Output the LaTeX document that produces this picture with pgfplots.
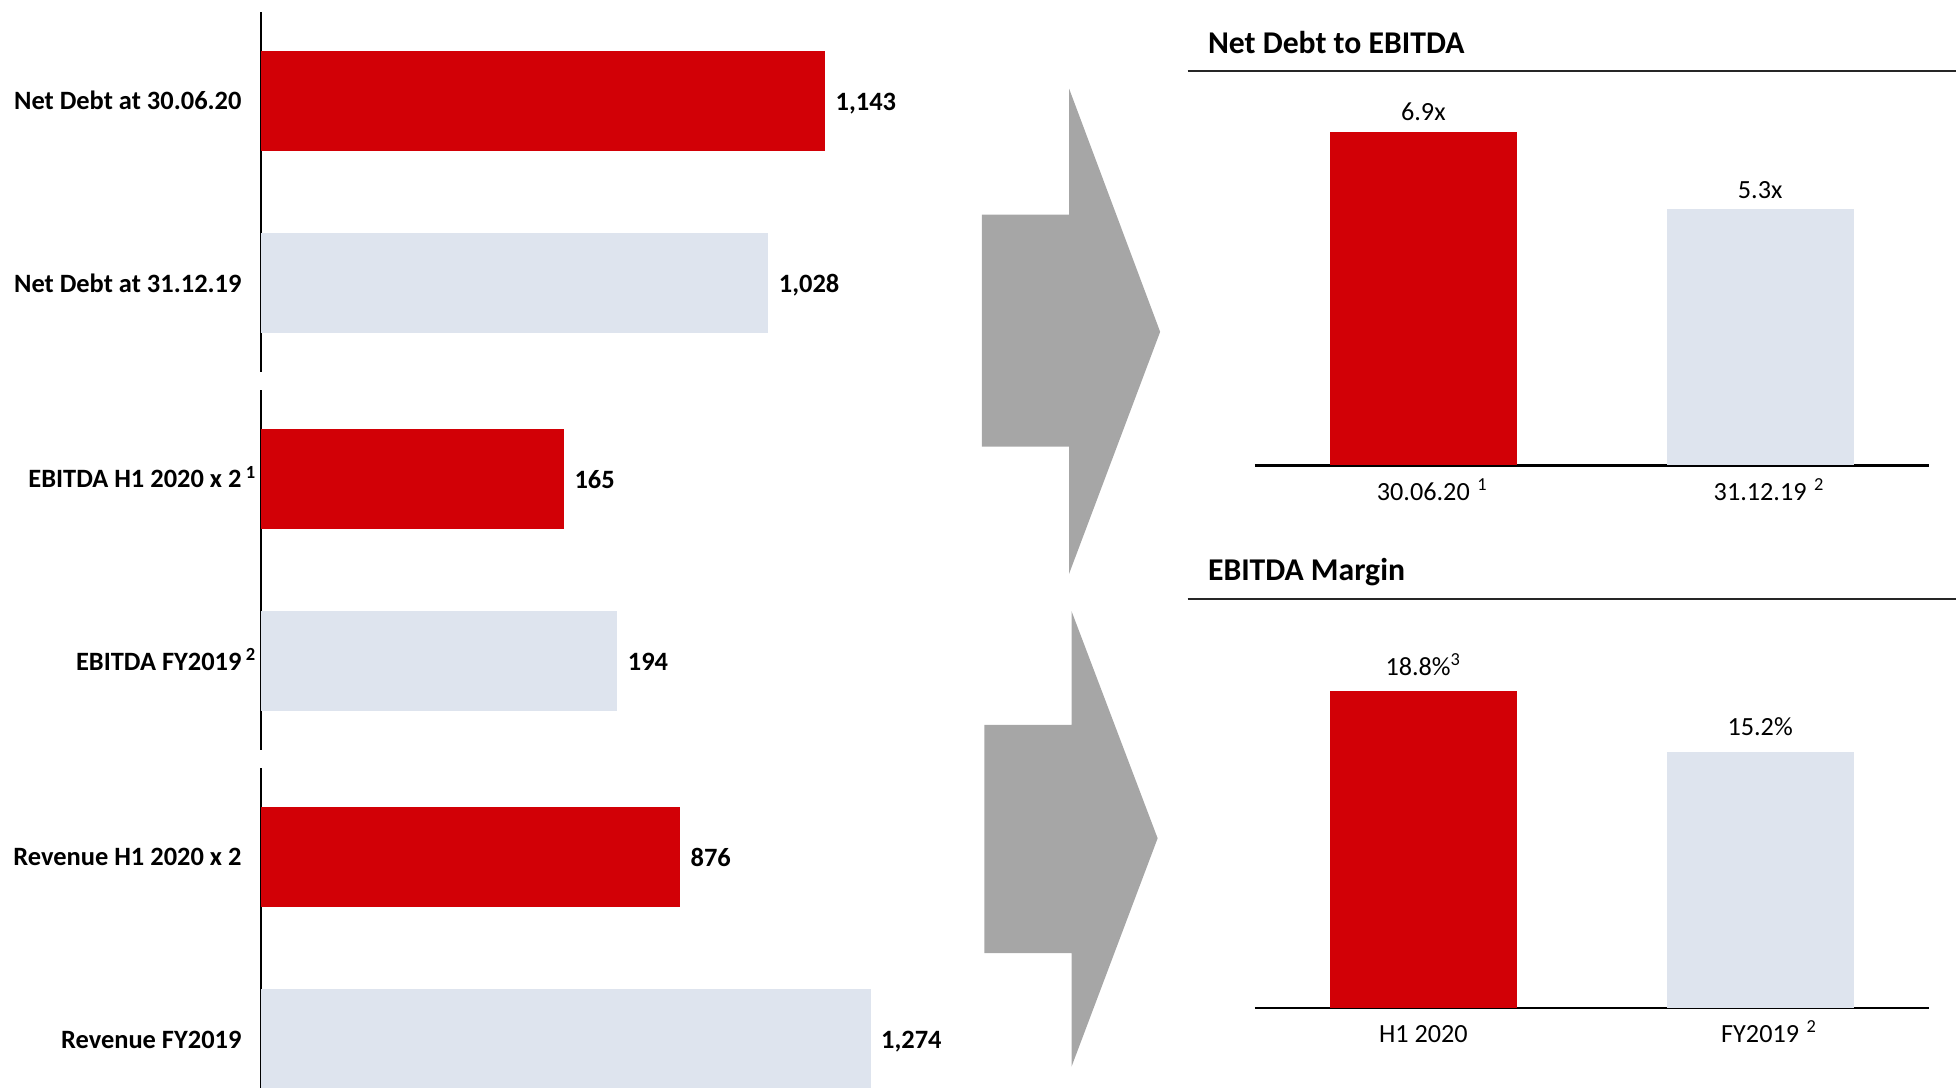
\documentclass[border=0pt]{standalone}
\usepackage{pgfplots}
\pgfplotsset{compat=1.18}
\usepackage{fontspec}
\setmainfont{Carlito}
\definecolor{cred}{RGB}{210,0,6}
\definecolor{clight}{RGB}{222,228,238}
\definecolor{carrow}{RGB}{166,166,166}
\newcommand{\lfont}{\fontsize{10.6}{12}\selectfont\bfseries}
\newcommand{\rfont}{\fontsize{10.5}{12}\selectfont}
\pgfplotsset{
  leftbar/.style={
    xbar, scale only axis, width=270pt, height=144pt, anchor=north west,
    y dir=reverse, bar width=40pt,
    xmin=0, ymin=-0.486, ymax=1.486,
    axis x line=none, axis y line=left,
    y axis line style={-, line width=0.9pt, black},
    ytick={0,1}, xtick=\empty, major tick length=0pt,
    yticklabel style={font=\lfont, inner sep=0pt, anchor=base east, xshift=-7.5pt, yshift=-3.6pt},
    point meta=x,
    nodes near coords={\pgfmathprintnumber[assume math mode=true,1000 sep={,}]{\pgfplotspointmeta}},
    every node near coord/.append style={font=\lfont, anchor=base west, inner sep=0pt, xshift=4pt, yshift=-3.9pt},
    clip=false,
  },
  rightbar/.style={
    ybar, scale only axis, width=270pt, anchor=south west,
    bar width=75pt, xmin=-0.5, xmax=1.5, ymin=0,
    axis x line=bottom, axis y line=none,
    x axis line style={-, line width=1pt, black},
    xtick={0,1}, ytick=\empty, major tick length=0pt,
    xticklabel style={font=\rfont, anchor=base, inner sep=0pt, yshift=-14pt},
    point meta=explicit symbolic,
    nodes near coords,
    every node near coord/.append style={font=\rfont, anchor=base, inner sep=0pt},
    clip=false,
  },
}
\begin{document}
\begin{tikzpicture}
\path[use as bounding box] (0,0) rectangle (784pt,436pt);
\clip (0,0) rectangle (784pt,436pt);

% Left panel
\begin{axis}[leftbar, at={(104.5pt,431pt)}, xmax=1364,
  yticklabels={Net Debt at 30.06.20, Net Debt at 31.12.19}]
\addplot[fill=cred, draw=none, bar shift=0pt] coordinates {(1143,0)};
\addplot[fill=clight, draw=none, bar shift=0pt] coordinates {(1028,1)};
\end{axis}

\begin{axis}[leftbar, at={(104.5pt,279.5pt)}, xmax=366.4,
  yticklabels={EBITDA H1 2020 x 2\rlap{\,\textsuperscript{1}}, EBITDA FY2019\rlap{\,\textsuperscript{2}}}]
\addplot[fill=cred, draw=none, bar shift=0pt] coordinates {(165,0)};
\addplot[fill=clight, draw=none, bar shift=0pt] coordinates {(194,1)};
\end{axis}

\begin{axis}[leftbar, at={(104.5pt,128pt)}, xmax=1407,
  yticklabels={Revenue H1 2020 x 2, Revenue FY2019}]
\addplot[fill=cred, draw=none, bar shift=0pt] coordinates {(876,0)};
\addplot[fill=clight, draw=none, bar shift=0pt] coordinates {(1274,1)};
\end{axis}

% Arrows
\fill[carrow] (393.5pt,350pt) -- (428.5pt,350pt) -- (428.5pt,400.5pt) -- (465pt,303pt) -- (428.5pt,206pt) -- (428.5pt,257pt) -- (393.5pt,257pt) -- cycle;
\fill[carrow] (394.5pt,145.5pt) -- (429.5pt,145.5pt) -- (429.5pt,191pt) -- (464pt,100pt) -- (429.5pt,8.5pt) -- (429.5pt,54pt) -- (394.5pt,54pt) -- cycle;

% Right panel: titles and rules
\node[anchor=base west, font=\fontsize{12.7}{15}\selectfont\bfseries, inner sep=0pt] at (484pt,414.5pt) {Net Debt to EBITDA};
\draw[line width=1pt, black!85] (476pt,407.5pt) -- (784pt,407.5pt);
\node[anchor=base west, font=\fontsize{12.7}{15}\selectfont\bfseries, inner sep=0pt] at (484pt,203.5pt) {EBITDA Margin};
\draw[line width=1pt, black!85] (476pt,196pt) -- (784pt,196pt);

\begin{axis}[rightbar, at={(503pt,249.5pt)}, height=135.45pt, ymax=7,
  every node near coord/.append style={yshift=4.5pt},
  xticklabels={30.06.20\rlap{\hspace{3pt}\textsuperscript{1}}, 31.12.19\rlap{\hspace{3pt}\textsuperscript{2}}}]
\addplot[fill=cred, draw=none, bar shift=0pt] coordinates {(0,6.9) [6.9x]};
\addplot[fill=clight, draw=none, bar shift=0pt] coordinates {(1,5.3) [5.3x]};
\end{axis}

\begin{axis}[rightbar, at={(503pt,32pt)}, height=135pt, ymax=20,
  every node near coord/.append style={yshift=6.5pt},
  xticklabels={H1 2020, FY2019\rlap{\hspace{3pt}\textsuperscript{2}}}]
\addplot[fill=cred, draw=none, bar shift=0pt] coordinates {(0,18.8) [18.8\%\textsuperscript{3}]};
\addplot[fill=clight, draw=none, bar shift=0pt] coordinates {(1,15.2) [15.2\%]};
\end{axis}
\end{tikzpicture}
\end{document}
